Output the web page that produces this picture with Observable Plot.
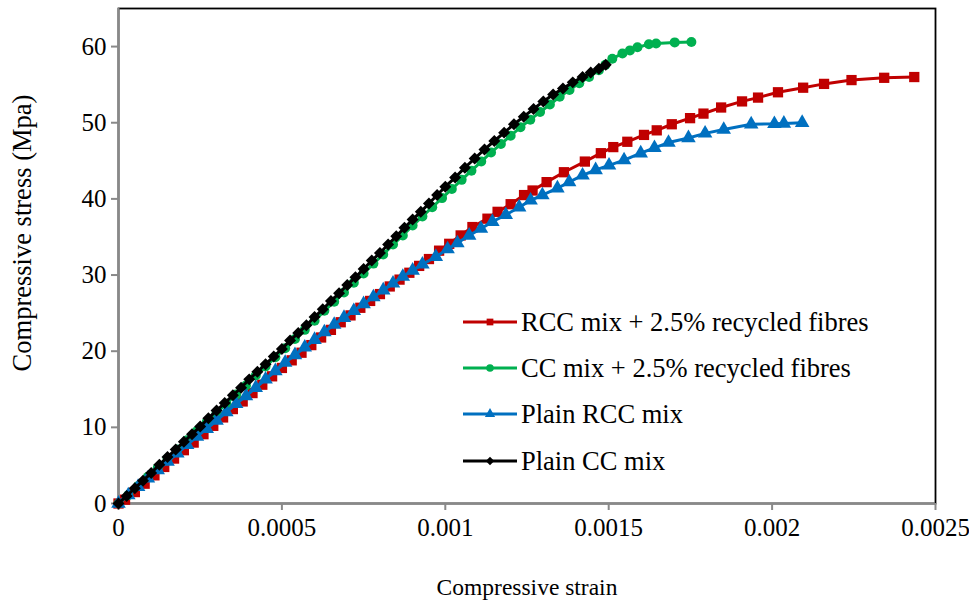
<!DOCTYPE html>
<html><head><meta charset="utf-8">
<script src="https://cdn.jsdelivr.net/npm/d3@7"></script>
<script src="https://cdn.jsdelivr.net/npm/@observablehq/plot@0.6"></script>
<style>
body{margin:0;background:#fff;}
#wrap{position:relative;width:969px;height:609px;font-family:"Liberation Serif","Times New Roman",serif;}
.leg{position:absolute;left:463px;height:30px;display:flex;align-items:center;font-size:26.5px;white-space:pre;color:#000;}
.leg svg{margin-right:4px;overflow:visible;}
</style></head><body><div id="wrap"></div>
<script>
// ---- data (strain, stress in MPa) ----
const seriesNames = ["RCC mix + 2.5% recycled fibres", "CC mix + 2.5% recycled fibres", "Plain RCC mix", "Plain CC mix"];
const seriesColors = ["#C00000", "#00B050", "#0070C0", "#000000"];
const seriesSymbols = ["square", "circle", "triangle", "diamond2"];

const rccFibreStrain = [0,0.02e-3,0.05e-3,0.08e-3,0.11e-3,0.14e-3,0.17e-3,0.20e-3,0.23e-3,0.26e-3,0.29e-3,0.32e-3,0.35e-3,0.38e-3,0.41e-3,0.44e-3,0.47e-3,0.50e-3,0.53e-3,0.56e-3,0.59e-3,0.62e-3,0.65e-3,0.68e-3,0.71e-3,0.74e-3,0.77e-3,0.80e-3,0.83e-3,0.86e-3,0.89e-3,0.92e-3,0.95e-3,0.981e-3,1.012e-3,1.047e-3,1.083e-3,1.129e-3,1.160e-3,1.200e-3,1.241e-3,1.267e-3,1.310e-3,1.363e-3,1.427e-3,1.476e-3,1.514e-3,1.557e-3,1.608e-3,1.647e-3,1.693e-3,1.749e-3,1.790e-3,1.844e-3,1.908e-3,1.957e-3,2.018e-3,2.095e-3,2.159e-3,2.243e-3,2.343e-3,2.435e-3];
const rccFibreStress = [0,0.5,1.5,2.6,3.7,4.8,5.9,7.0,8.0,9.1,10.2,11.3,12.4,13.4,14.5,15.6,16.7,17.8,18.8,19.8,20.8,21.8,22.8,23.8,24.7,25.7,26.6,27.5,28.5,29.4,30.3,31.2,32.1,33.2,34.1,35.2,36.3,37.4,38.3,39.3,40.5,41.1,42.2,43.5,44.9,46.0,46.8,47.5,48.4,49.0,49.8,50.6,51.2,52.0,52.8,53.3,54.0,54.6,55.1,55.6,55.9,56.0];

const ccFibreStrain = [0,0.03e-3,0.06e-3,0.09e-3,0.12e-3,0.15e-3,0.18e-3,0.21e-3,0.24e-3,0.27e-3,0.30e-3,0.33e-3,0.36e-3,0.39e-3,0.42e-3,0.45e-3,0.48e-3,0.51e-3,0.54e-3,0.57e-3,0.60e-3,0.63e-3,0.66e-3,0.69e-3,0.72e-3,0.75e-3,0.78e-3,0.81e-3,0.84e-3,0.87e-3,0.90e-3,0.93e-3,0.96e-3,0.99e-3,1.02e-3,1.05e-3,1.08e-3,1.11e-3,1.14e-3,1.17e-3,1.20e-3,1.23e-3,1.26e-3,1.29e-3,1.32e-3,1.35e-3,1.38e-3,1.41e-3,1.44e-3,1.47e-3,1.49e-3,1.511e-3,1.542e-3,1.565e-3,1.588e-3,1.623e-3,1.645e-3,1.702e-3,1.753e-3];
const ccFibreStress = [0,1.1,2.3,3.5,4.7,5.9,7.1,8.3,9.5,10.7,11.9,13.1,14.3,15.5,16.8,18.0,19.2,20.4,21.6,22.8,24.0,25.3,26.5,27.7,29.0,30.2,31.5,32.7,34.0,35.2,36.5,37.7,38.9,40.1,41.3,42.5,43.7,44.9,46.1,47.2,48.3,49.4,50.4,51.4,52.4,53.4,54.3,55.2,56.0,56.9,57.6,58.4,59.1,59.5,59.9,60.3,60.4,60.55,60.6];

const plainRccStrain = [0,0.03e-3,0.06e-3,0.09e-3,0.12e-3,0.15e-3,0.18e-3,0.21e-3,0.24e-3,0.27e-3,0.30e-3,0.33e-3,0.36e-3,0.39e-3,0.42e-3,0.45e-3,0.48e-3,0.51e-3,0.54e-3,0.57e-3,0.60e-3,0.63e-3,0.66e-3,0.69e-3,0.72e-3,0.75e-3,0.78e-3,0.81e-3,0.84e-3,0.87e-3,0.90e-3,0.93e-3,0.971e-3,1.007e-3,1.037e-3,1.073e-3,1.109e-3,1.144e-3,1.185e-3,1.226e-3,1.261e-3,1.297e-3,1.343e-3,1.379e-3,1.420e-3,1.460e-3,1.501e-3,1.547e-3,1.598e-3,1.640e-3,1.683e-3,1.744e-3,1.795e-3,1.852e-3,1.936e-3,2.007e-3,2.036e-3,2.092e-3];
const plainRccStress = [0,1.1,2.2,3.3,4.4,5.5,6.6,7.7,8.8,9.8,10.9,12.0,13.1,14.1,15.2,16.3,17.4,18.5,19.5,20.5,21.5,22.5,23.5,24.4,25.3,26.2,27.1,28.0,28.9,29.8,30.6,31.4,32.4,33.4,34.2,35.2,36.1,37.0,37.9,38.9,39.8,40.5,41.4,42.2,43.1,43.8,44.4,45.1,46.0,46.7,47.4,48.0,48.6,49.1,49.8,49.85,49.9,50.0];

const plainCcStrain = [0,0.025e-3,0.05e-3,0.075e-3,0.10e-3,0.125e-3,0.15e-3,0.175e-3,0.20e-3,0.225e-3,0.25e-3,0.275e-3,0.30e-3,0.325e-3,0.35e-3,0.375e-3,0.40e-3,0.425e-3,0.45e-3,0.475e-3,0.50e-3,0.525e-3,0.55e-3,0.575e-3,0.60e-3,0.625e-3,0.65e-3,0.675e-3,0.70e-3,0.725e-3,0.75e-3,0.775e-3,0.80e-3,0.825e-3,0.85e-3,0.875e-3,0.90e-3,0.925e-3,0.95e-3,0.975e-3,1.00e-3,1.03e-3,1.06e-3,1.09e-3,1.12e-3,1.15e-3,1.18e-3,1.21e-3,1.24e-3,1.27e-3,1.30e-3,1.33e-3,1.36e-3,1.39e-3,1.42e-3,1.445e-3,1.47e-3,1.491e-3];
const plainCcStress = [0,1.0,2.0,3.0,4.0,5.1,6.1,7.1,8.1,9.1,10.1,11.2,12.2,13.2,14.2,15.2,16.3,17.3,18.3,19.3,20.3,21.4,22.4,23.4,24.5,25.5,26.6,27.6,28.7,29.7,30.8,31.9,32.9,34.0,35.1,36.2,37.3,38.3,39.4,40.5,41.6,42.8,44.1,45.3,46.5,47.6,48.7,49.8,50.8,51.8,52.8,53.7,54.5,55.3,56.0,56.6,57.1,57.6];

const xTicks = [0, 0.0005, 0.001, 0.0015, 0.002, 0.0025];
const xTickLabels = ["0", "0.0005", "0.001", "0.0015", "0.002", "0.0025"];
const yTicks = [0, 10, 20, 30, 40, 50, 60];
const yTickLabels = ["0", "10", "20", "30", "40", "50", "60"];
const xTitle = "Compressive strain";
const yTitle = "Compressive stress (Mpa)";

// ---- build ----
const strains = [rccFibreStrain, ccFibreStrain, plainRccStrain, plainCcStrain];
const stresses = [rccFibreStress, ccFibreStress, plainRccStress, plainCcStress];
const dotR = [5.8, 5.0, 5.4, 5.4];
const series = seriesNames.map((name, i) => strains[i].map((s, j) => ({name, strain: s, stress: stresses[i][j]})));

const gray = "#898989";
const marks = [
  Plot.frame({stroke: "#000", strokeWidth: 1.8}),
  Plot.ruleX([0], {stroke: gray, strokeWidth: 2}),
  Plot.ruleY([0], {stroke: gray, strokeWidth: 2}),
  Plot.axisX({ticks: xTicks, tickFormat: (d) => xTickLabels[xTicks.indexOf(d)], tickSize: 7, tickPadding: 8, stroke: gray, strokeWidth: 2, fontSize: 25, label: null}),
  Plot.axisY({ticks: yTicks, tickFormat: (d) => yTickLabels[yTicks.indexOf(d)], tickSize: 7, tickPadding: 5, stroke: gray, strokeWidth: 2, fontSize: 25, label: null}),
  Plot.text([xTitle], {frameAnchor: "bottom", dy: 91, text: d => d, fontSize: 23.5, textAnchor: "middle"}),
  Plot.text([yTitle], {frameAnchor: "left", dx: -96, dy: -23, rotate: -90, text: d => d, fontSize: 26.5, textAnchor: "middle"})
];
series.forEach((data, i) => {
  marks.push(Plot.line(data, {x: "strain", y: "stress", stroke: seriesColors[i], strokeWidth: 3}));
  marks.push(Plot.dot(data, {x: "strain", y: "stress", symbol: () => seriesSymbols[i], fill: seriesColors[i], stroke: "none", r: dotR[i]}));
});

const chart = Plot.plot({
  width: 969, height: 609,
  marginLeft: 118, marginRight: 34, marginTop: 8, marginBottom: 106,
  x: {domain: [0, 0.0025], axis: null},
  y: {domain: [0, 65], axis: null},
  symbol: {type: "identity"},
  style: {fontFamily: "'Liberation Serif','Times New Roman',serif", fontSize: "25px", color: "#000", background: "#fff"},
  marks
});
const wrap = document.getElementById("wrap");
wrap.appendChild(chart);

// ---- legend ----
const symMap = {square: d3.symbolSquare, circle: d3.symbolCircle, triangle: d3.symbolTriangle, diamond2: d3.symbolDiamond2};
const legendTops = [307, 353, 399, 446];
seriesNames.forEach((name, i) => {
  const row = document.createElement("div");
  row.className = "leg";
  row.style.top = legendTops[i] + "px";
  const ns = "http://www.w3.org/2000/svg";
  const svg = document.createElementNS(ns, "svg");
  svg.setAttribute("width", 54); svg.setAttribute("height", 14);
  const line = document.createElementNS(ns, "line");
  line.setAttribute("x1", 0); line.setAttribute("x2", 54); line.setAttribute("y1", 7); line.setAttribute("y2", 7);
  line.setAttribute("stroke", seriesColors[i]); line.setAttribute("stroke-width", 3);
  svg.appendChild(line);
  const p = document.createElementNS(ns, "path");
  p.setAttribute("d", d3.symbol(symMap[seriesSymbols[i]], Math.PI * 3.8 * 3.8)());
  p.setAttribute("transform", "translate(27,7)");
  p.setAttribute("fill", seriesColors[i]);
  svg.appendChild(p);
  row.appendChild(svg);
  const t = document.createElement("span");
  t.textContent = name;
  row.appendChild(t);
  wrap.appendChild(row);
});
</script></body></html>
